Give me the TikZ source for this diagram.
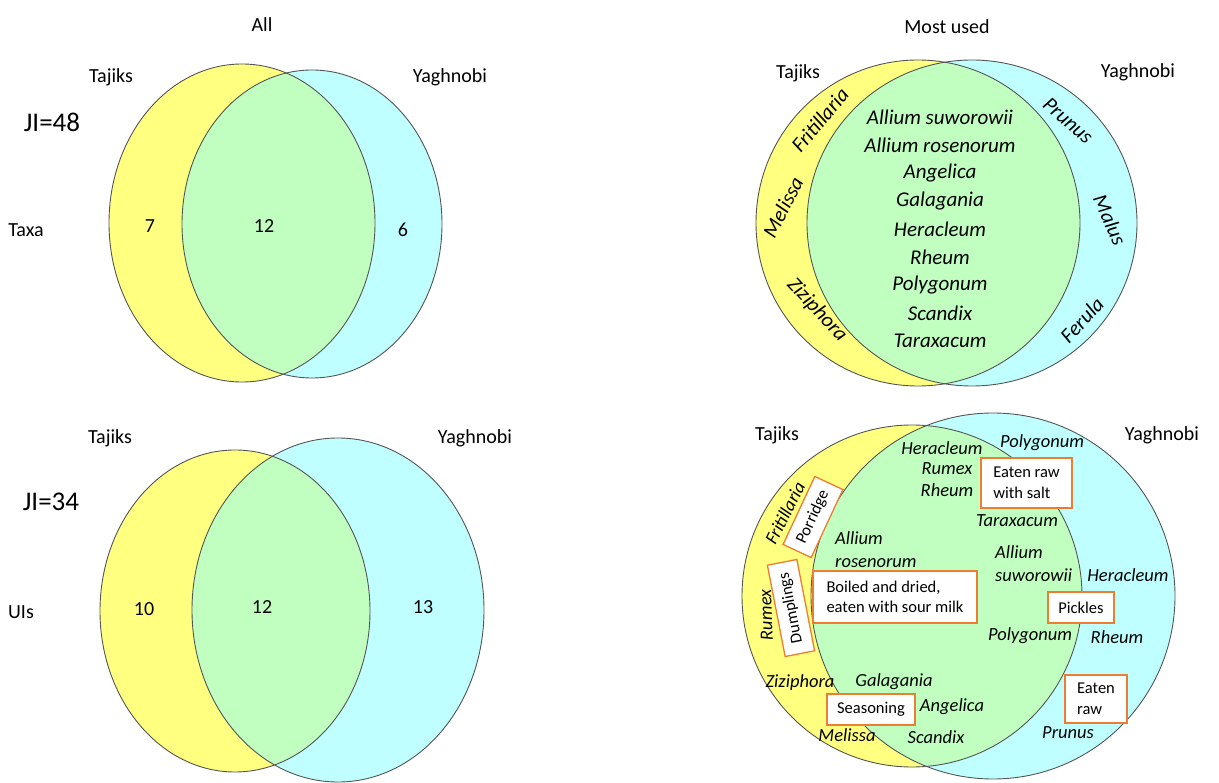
\documentclass[tikz,border=0pt]{standalone}
\usepackage{fontspec}
\setmainfont{Carlito}
\usetikzlibrary{positioning}
\definecolor{VennYellow}{RGB}{255,255,128}
\definecolor{VennCyan}{RGB}{191,255,255}
\definecolor{VennGreen}{RGB}{193,255,193}
\definecolor{VennLine}{RGB}{85,85,85}
\definecolor{UseOrange}{RGB}{237,125,49}

\tikzset{
  vennline/.style={draw=VennLine, line width=0.9pt},
  grouplabel/.style={inner sep=0pt, font=\fontsize{20}{24}\selectfont},
  jilabel/.style={inner sep=0pt, font=\fontsize{27}{32}\selectfont},
  taxon/.style={inner sep=0pt, font=\fontsize{21}{25}\selectfont\itshape},
  smalltaxon/.style={inner sep=0pt, align=left, font=\fontsize{18.5}{23}\selectfont\itshape},
  usebox/.style={draw=UseOrange, line width=1.3pt, fill=white, inner sep=0pt, align=left,
    font=\fontsize{16.5}{20.5}\selectfont}
}

% two overlapping sets: yellow (Tajiks) and cyan (Yaghnobi)
\newcommand{\vennpair}[8]{%
  \fill[VennYellow] (#1,#2) ellipse [x radius=#3, y radius=#4];
  \fill[VennCyan] (#5,#6) ellipse [x radius=#7, y radius=#8];
  \begin{scope}
    \clip (#1,#2) ellipse [x radius=#3, y radius=#4];
    \fill[VennGreen] (#5,#6) ellipse [x radius=#7, y radius=#8];
  \end{scope}
  \draw[vennline] (#1,#2) ellipse [x radius=#3, y radius=#4];
  \draw[vennline] (#5,#6) ellipse [x radius=#7, y radius=#8];
}

\begin{document}
\begin{tikzpicture}[x=1pt, y=-1pt]
  \useasboundingbox (0,0) rectangle (1219,783);

  % All -- taxa
  \vennpair{242}{223}{133}{159}{312}{224}{130}{154}
  \node[grouplabel] (allTitle) at (262,25) {All};
  \node[grouplabel] (taxaTaj) at (111,77) {Tajiks};
  \node[grouplabel] (taxaYag) at (450,77) {Yaghnobi};
  \node[jilabel] (taxaJI) at (52,122) {JI=48};
  \node[grouplabel] (taxaRow) at (26,230) {Taxa};
  \node[grouplabel] (taxaOnlyTaj) at (150,226) {7};
  \node[grouplabel] (taxaBoth) at (264,226) {12};
  \node[grouplabel] (taxaOnlyYag) at (403,230) {6};

  % All -- use instances
  \vennpair{235}{611}{135}{161}{338}{610}{146}{172}
  \node[grouplabel] (uiTaj) at (110,438) {Tajiks};
  \node[grouplabel] (uiYag) at (475,438) {Yaghnobi};
  \node[jilabel] (uiJI) at (51,502) {JI=34};
  \node[grouplabel] (uiRow) at (21,612) {UIs};
  \node[grouplabel] (uiOnlyTaj) at (144,609) {10};
  \node[grouplabel] (uiBoth) at (262,607) {12};
  \node[grouplabel] (uiOnlyYag) at (423,607) {13};

  % Most used -- taxa
  \vennpair{918}{223}{162}{163}{972}{223}{165}{163}
  \node[grouplabel] (mostTitle) at (947,27) {Most used};
  \node[grouplabel] (mostTaj) at (798,73) {Tajiks};
  \node[grouplabel] (mostYag) at (1138,72) {Yaghnobi};
  \foreach \name [count=\i] in {Allium suworowii, Allium rosenorum, Angelica, Galagania,
      Heracleum, Rheum, Polygonum, Scandix, Taraxacum}
    \node[taxon] (core\i) at (940,{89+28*\i}) {\name};
  \node[taxon, rotate=50] (mostFrit) at (820,120) {Fritillaria};
  \node[taxon, rotate=63] (mostMel) at (783,207) {Melissa};
  \node[taxon, rotate=-47] (mostZiz) at (817,310) {Ziziphora};
  \node[taxon, rotate=-41] (mostPru) at (1068,121) {Prunus};
  \node[taxon, rotate=-66] (mostMal) at (1110,220) {Malus};
  \node[taxon, rotate=47] (mostFer) at (1082,320) {Ferula};

  % Most used -- use instances
  \vennpair{912}{596}{170}{171}{993}{596}{182}{183}
  \node[grouplabel] (useTaj) at (777,435) {Tajiks};
  \node[grouplabel] (useYag) at (1162,435) {Yaghnobi};
  \node[smalltaxon] (useHer) at (942,448) {Heracleum};
  \node[smalltaxon] (usePolTop) at (1042,443) {Polygonum};
  \node[smalltaxon] (useRum) at (947,469) {Rumex};
  \node[smalltaxon] (useRhe) at (947,490) {Rheum};
  \node[usebox, minimum width=91, minimum height=50] (boxSalt) at (1026.5,483) {Eaten raw\\with salt};
  \node[smalltaxon] (useTar) at (1017,521) {Taraxacum};
  \node[smalltaxon, rotate=63] (useFrit) at (785,513) {Fritillaria};
  \node[usebox, rotate=65, minimum width=75, minimum height=31] (boxPorr) at (813,517) {Porridge};
  \node[smalltaxon, anchor=west] (useAllRos) at (835,549.5) {Allium\\rosenorum};
  \node[smalltaxon, anchor=west] (useAllSuw) at (995,564) {Allium\\suworowii};
  \node[usebox, minimum width=164, minimum height=52] (boxBoil) at (895,597) {Boiled and dried,\\eaten with sour milk};
  \node[smalltaxon] (useHerYag) at (1128,575) {Heracleum};
  \node[usebox, rotate=101, minimum width=93, minimum height=30] (boxDump) at (791,608) {Dumplings};
  \node[smalltaxon, rotate=92] (useRumTaj) at (766,615) {Rumex};
  \node[usebox, minimum width=66, minimum height=31] (boxPick) at (1081,607.5) {Pickles};
  \node[smalltaxon] (usePol) at (1030,636) {Polygonum};
  \node[smalltaxon] (useRheYag) at (1117,637) {Rheum};
  \node[smalltaxon] (useZiz) at (800,683) {Ziziphora};
  \node[smalltaxon] (useGal) at (894,682) {Galagania};
  \node[usebox, minimum width=88, minimum height=31] (boxSeas) at (871,709.5) {Seasoning};
  \node[smalltaxon] (useAng) at (952,707) {Angelica};
  \node[usebox, minimum width=62, minimum height=48] (boxRaw) at (1096,699) {Eaten\\raw};
  \node[smalltaxon] (useMel) at (847,735) {Melissa};
  \node[smalltaxon] (useSca) at (936,737) {Scandix};
  \node[smalltaxon] (usePru) at (1068,733) {Prunus};
\end{tikzpicture}
\end{document}
